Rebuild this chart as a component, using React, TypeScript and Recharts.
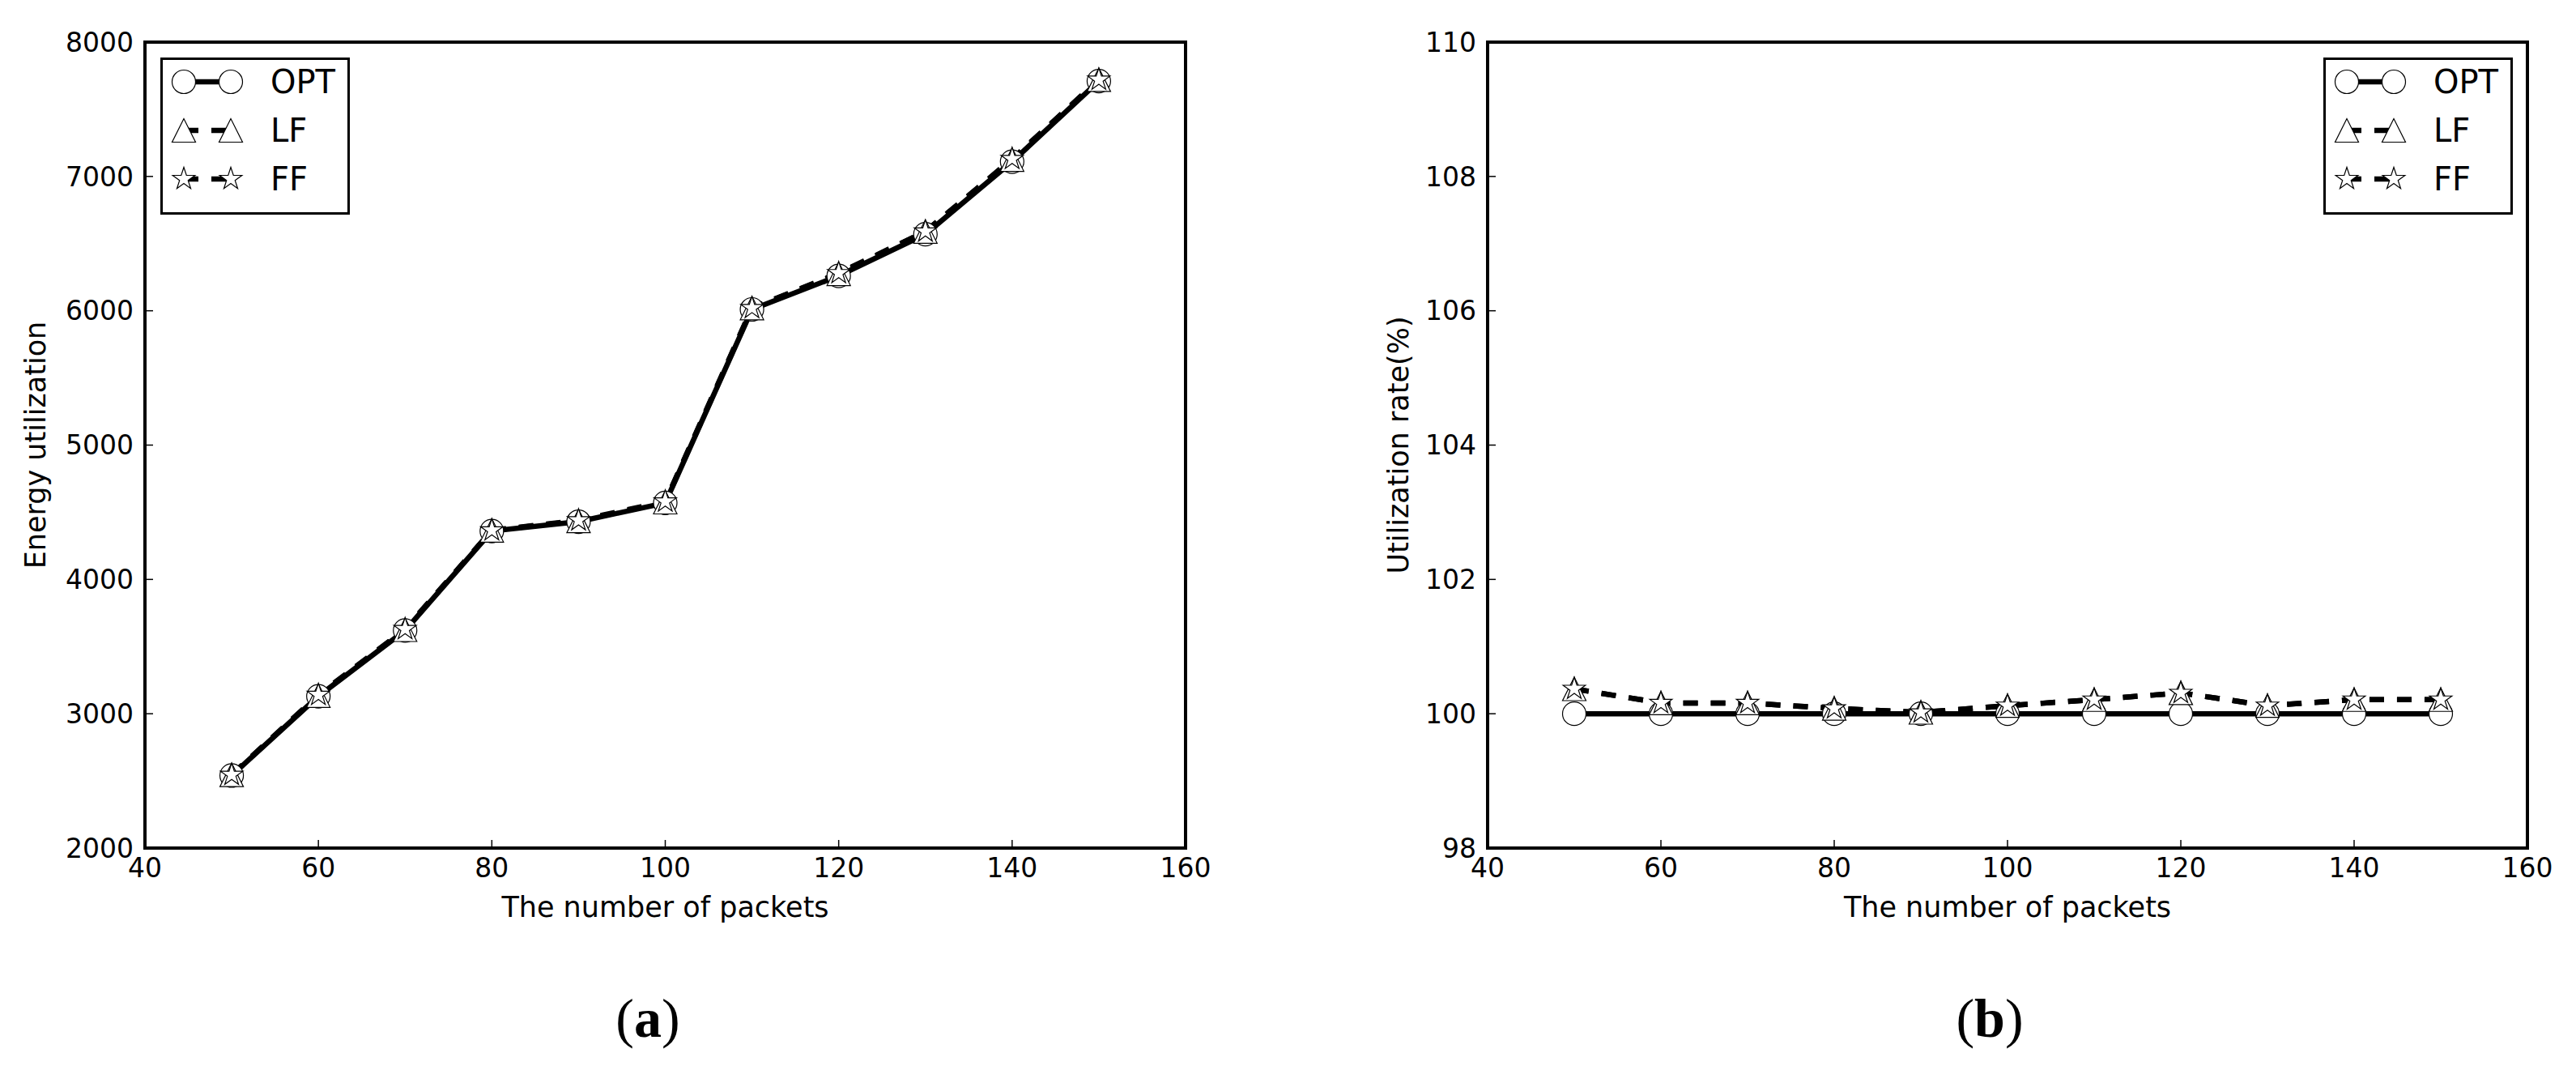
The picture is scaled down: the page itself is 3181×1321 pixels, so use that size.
import React from 'react';
import { LineChart, Line, XAxis, YAxis, ReferenceArea } from 'recharts';

// x values (number of packets)
const packets = [50, 60, 70, 80, 90, 100, 110, 120, 130, 140, 150];
const xTicks = [40, 60, 80, 100, 120, 140, 160];

// (a) energy utilization
const energyOPT = [2540, 3130, 3620, 4360, 4430, 4570, 6010, 6260, 6570, 7110, 7710];
const energyLF = [2545, 3135, 3625, 4365, 4435, 4575, 6020, 6275, 6590, 7125, 7720];
const energyFF = [2545, 3140, 3630, 4365, 4440, 4580, 6020, 6280, 6590, 7130, 7720];
const energyTicks = [2000, 3000, 4000, 5000, 6000, 7000, 8000];

// (b) utilization rate
const rateOPT = [100, 100, 100, 100, 100, 100, 100, 100, 100, 100, 100];
const rateLF = [100.37, 100.16, 100.16, 100.08, 100.02, 100.12, 100.21, 100.31, 100.12, 100.21, 100.21];
const rateFF = [100.37, 100.16, 100.16, 100.08, 100.02, 100.12, 100.21, 100.31, 100.12, 100.21, 100.21];
const rateTicks = [98, 100, 102, 104, 106, 108, 110];

const seriesNames = ['OPT', 'LF', 'FF'];
const seriesKeys = ['opt', 'lf', 'ff'];
const markerKinds = ['circle', 'triangle', 'star'];
const dashes = [undefined, '18 16', '18 16'];

const FONT = 'DejaVu Sans';
const R = 14.5;
const LW = 6.5;

function Marker({ kind, cx, cy }: { kind: string; cx: number; cy: number }) {
    const common = { fill: '#fff', stroke: '#000', strokeWidth: 1.2 };
    if (kind === 'circle') return <circle cx={cx} cy={cy} r={R} {...common} />;
    if (kind === 'triangle') {
        return <polygon points={`${cx},${cy - R} ${cx - R},${cy + R} ${cx + R},${cy + R}`} {...common} />;
    }
    const pts: string[] = [];
    for (let k = 0; k < 10; k++) {
        const r = k % 2 === 0 ? R : R * 0.382;
        const a = -Math.PI / 2 + (k * Math.PI) / 5;
        pts.push(`${cx + r * Math.cos(a)},${cy + r * Math.sin(a)}`);
    }
    return <polygon points={pts.join(' ')} {...common} />;
}

function LegendBox({ left, top }: { left: number; top: number }) {
    return (
        <div
            style={{
                position: 'absolute', left, top, width: 234, height: 194, boxSizing: 'border-box',
                border: '3px solid #000', background: '#fff',
            }}
        >
            {seriesNames.map((name, i) => (
                <div key={name} style={{ position: 'absolute', left: -3, top: i * 60 - 3, width: 234, height: 60 }}>
                    <svg width={120} height={60} style={{ position: 'absolute', left: 0, top: 0 }}>
                        <line x1={29} y1={30} x2={87} y2={30} stroke="#000" strokeWidth={LW} strokeDasharray={dashes[i]} />
                        <Marker kind={markerKinds[i]} cx={29} cy={30} />
                        <Marker kind={markerKinds[i]} cx={87} cy={30} />
                    </svg>
                    <span
                        style={{
                            position: 'absolute', left: 136, top: 0, lineHeight: '60px',
                            fontFamily: FONT, fontSize: 40, color: '#000',
                        }}
                    >
                        {name}
                    </span>
                </div>
            ))}
        </div>
    );
}

function Panel(props: {
    rows: any[]; yTicks: number[]; yLabel: string; left: number; width: number;
    yAxisWidth: number; rightMargin: number; labelX: number; legendLeft: number;
}) {
    const { rows, yTicks, yLabel, left, width, yAxisWidth, rightMargin, labelX, legendLeft } = props;
    const tickStyle = { fill: '#000', fontSize: 33, fontFamily: FONT };
    const ydomain = [yTicks[0], yTicks[yTicks.length - 1]];
    return (
        <div style={{ position: 'absolute', left, top: 0, width, height: 1200 }}>
            <LineChart width={width} height={1200} data={rows} margin={{ top: 51, right: rightMargin, bottom: 0, left: 0 }}>
                <XAxis
                    xAxisId="b" dataKey="packets" type="number" domain={[40, 160]} ticks={xTicks}
                    height={153} axisLine={{ stroke: '#000', strokeWidth: 4 }}
                    tickLine={{ stroke: '#000', strokeWidth: 1.5 }} tickSize={-10} tickMargin={23}
                    tick={tickStyle}
                    label={{ value: 'The number of packets', position: 'insideTop', offset: 60, fill: '#000', fontSize: 35, fontFamily: FONT }}
                />
                <XAxis
                    xAxisId="t" orientation="top" dataKey="packets" type="number" domain={[40, 160]} ticks={xTicks}
                    height={1} axisLine={{ stroke: '#000', strokeWidth: 4 }}
                    tickLine={{ stroke: '#000', strokeWidth: 1.5 }} tickSize={-10} tick={false}
                />
                <YAxis
                    yAxisId="l" type="number" domain={ydomain} ticks={yTicks} width={yAxisWidth}
                    axisLine={{ stroke: '#000', strokeWidth: 4 }}
                    tickLine={{ stroke: '#000', strokeWidth: 1.5 }} tickSize={-10} tickMargin={24}
                    tick={tickStyle}
                    label={{
                        value: yLabel, angle: -90, position: 'insideLeft', offset: labelX,
                        fill: '#000', fontSize: 35, fontFamily: FONT, style: { textAnchor: 'middle' },
                    }}
                />
                <YAxis
                    yAxisId="r" orientation="right" type="number" domain={ydomain} ticks={yTicks} width={1}
                    axisLine={{ stroke: '#000', strokeWidth: 4 }}
                    tickLine={{ stroke: '#000', strokeWidth: 1.5 }} tickSize={-10} tick={false}
                />
                {/* frame of the plot box */}
                <ReferenceArea
                    xAxisId="b" yAxisId="l" x1={40} x2={160} y1={ydomain[0]} y2={ydomain[1]}
                    fill="none" fillOpacity={0} stroke="#000" strokeWidth={4}
                />
                {seriesKeys.map((key, i) => (
                    <Line
                        key={key}
                        xAxisId="b"
                        yAxisId="l"
                        dataKey={key}
                        name={seriesNames[i]}
                        type="linear"
                        stroke="#000"
                        strokeWidth={LW}
                        strokeDasharray={dashes[i]}
                        dot={(p: any) => <Marker key={`${key}-${p.index}`} kind={markerKinds[i]} cx={p.cx} cy={p.cy} />}
                        activeDot={false}
                        isAnimationActive={false}
                    />
                ))}
            </LineChart>
            <LegendBox left={legendLeft} top={71} />
        </div>
    );
}

const energyRows = packets.map((p, i) => ({ packets: p, opt: energyOPT[i], lf: energyLF[i], ff: energyFF[i] }));
const rateRows = packets.map((p, i) => ({ packets: p, opt: rateOPT[i], lf: rateLF[i], ff: rateFF[i] }));

export default function App() {
    const capStyle: React.CSSProperties = {
        position: 'absolute', top: 1223, width: 200, textAlign: 'center',
        fontFamily: 'Liberation Serif', fontSize: 68, lineHeight: '68px', color: '#000',
    };
    return (
        <div style={{ position: 'relative', width: 3181, height: 1321, background: '#fff' }}>
            <style>{'body{margin:0;}'}</style>
            <Panel
                rows={energyRows} yTicks={energyTicks} yLabel="Energy utilization"
                left={0} width={1600} yAxisWidth={179} rightMargin={135} labelX={44} legendLeft={198}
            />
            <Panel
                rows={rateRows} yTicks={rateTicks} yLabel="Utilization rate(%)"
                left={1600} width={1581} yAxisWidth={237} rightMargin={59} labelX={127} legendLeft={1269}
            />
            <div style={{ ...capStyle, left: 700 }}>(<b>a</b>)</div>
            <div style={{ ...capStyle, left: 2357 }}>(<b>b</b>)</div>
        </div>
    );
}
